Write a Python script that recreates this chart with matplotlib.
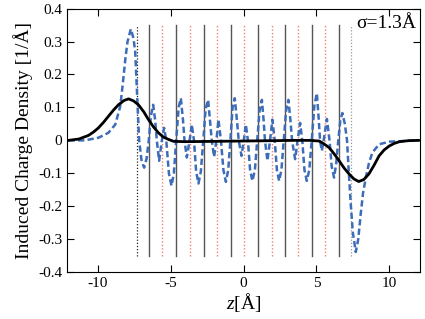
import matplotlib
import matplotlib.pyplot as plt

matplotlib.use("Agg")

plt.rcParams["font.family"] = ["Liberation Serif", "DejaVu Serif"]
plt.rcParams["mathtext.fontset"] = "custom"
plt.rcParams["mathtext.rm"] = "Liberation Serif"
plt.rcParams["mathtext.it"] = "Liberation Serif:italic"

# dashed blue curve: induced charge (unsmoothed)
blue_z = [
    -12.0, -10.9, -9.95, -9.27, -8.8, -8.46, -8.3, -8.1, -7.96, -7.73, -7.55, -7.43,
    -7.28, -7.16, -7.0, -6.82, -6.65, -6.5, -6.35, -6.2, -6.06, -5.95, -5.79, -5.6,
    -5.45, -5.3, -5.12, -4.94, -4.78, -4.62, -4.45, -4.3, -4.15, -4.05, -3.89, -3.7,
    -3.55, -3.4, -3.25, -3.09, -2.93, -2.76, -2.6, -2.43, -2.3, -2.18, -2.02, -1.86,
    -1.72, -1.55, -1.38, -1.21, -1.05, -0.9, -0.75, -0.6, -0.45, -0.33, -0.14, 0.02,
    0.16, 0.3, 0.45, 0.61, 0.78, 0.94, 1.1, 1.26, 1.38, 1.47, 1.64, 1.82,
    1.98, 2.14, 2.29, 2.44, 2.6, 2.76, 2.92, 3.08, 3.22, 3.33, 3.54, 3.71,
    3.88, 4.03, 4.18, 4.34, 4.51, 4.68, 4.86, 5.03, 5.15, 5.25, 5.37, 5.5,
    5.72, 5.9, 6.05, 6.21, 6.36, 6.5, 6.64, 6.78, 6.95, 7.1, 7.2, 7.35,
    7.5, 7.7, 7.87, 8.04, 8.2, 8.39, 8.6, 8.84, 9.3, 10.0, 12.0,
]
blue_q = [
    0.0, 0.0, 0.008, 0.023, 0.048, 0.103, 0.164, 0.25, 0.299, 0.338, 0.31, 0.269,
    0.118, 0.0, -0.06, -0.083, -0.055, 0.0, 0.075, 0.108, 0.06, 0.0, -0.062, 0.0,
    0.038, 0.0, -0.1, -0.138, -0.1, 0.0, 0.1, 0.128, 0.06, 0.0, -0.052, 0.0,
    0.048, 0.0, -0.095, -0.131, -0.095, 0.0, 0.095, 0.123, 0.06, 0.0, -0.05, 0.0,
    0.063, 0.0, -0.09, -0.126, -0.09, 0.0, 0.1, 0.128, 0.06, 0.0, -0.047, 0.0,
    0.048, 0.0, -0.09, -0.123, -0.09, 0.0, 0.09, 0.123, 0.06, 0.0, -0.062, 0.0,
    0.063, 0.0, -0.09, -0.123, -0.09, 0.0, 0.09, 0.123, 0.06, 0.0, -0.057, 0.0,
    0.053, 0.0, -0.09, -0.123, -0.09, 0.0, 0.105, 0.143, 0.07, 0.0, -0.032, 0.0,
    0.065, 0.0, -0.08, -0.113, -0.07, 0.0, 0.06, 0.083, 0.05, 0.0, -0.08, -0.19,
    -0.28, -0.339, -0.3, -0.223, -0.16, -0.113, -0.07, -0.037, -0.012, -0.004, 0.0,
]

# solid black curve: Gaussian-smeared charge (sigma = 1.3 A)
black_z = [
    -12.0, -11.3, -10.64, -10.3, -9.95, -9.6, -9.27, -8.9, -8.58, -8.2, -7.89, -7.55,
    -7.21, -6.85, -6.52, -6.18, -5.84, -5.5, -5.15, -4.8, -4.0, -2.0, 0.0, 2.0,
    3.5, 4.5, 5.19, 5.5, 5.87, 6.2, 6.56, 6.9, 7.24, 7.57, 7.9, 8.25,
    8.6, 8.95, 9.3, 9.65, 10.0, 10.35, 10.7, 11.3, 12.0,
]
black_q = [
    0.0, 0.004, 0.015, 0.025, 0.038, 0.055, 0.073, 0.093, 0.108, 0.121, 0.126, 0.12,
    0.108, 0.087, 0.063, 0.041, 0.023, 0.01, 0.003, -0.003, -0.004, -0.003, -0.002, -0.001,
    0.0, 0.0, -0.002, -0.01, -0.022, -0.04, -0.062, -0.084, -0.102, -0.117, -0.125, -0.119,
    -0.102, -0.076, -0.047, -0.029, -0.017, -0.009, -0.004, -0.001, 0.0,
]

# layer positions
solid_planes = [-6.49, -4.61, -2.74, -0.89, 0.98, 2.83, 4.70, 6.55]
red_planes = [-5.57, -3.68, -1.83, 0.05, 1.92, 3.77, 5.62]
edge_planes = [-7.31, 7.38]

x_ticks = [-10, -5, 0, 5, 10]
y_ticks = [-0.4, -0.3, -0.2, -0.1, 0.0, 0.1, 0.2, 0.3, 0.4]
y_labels = ["-0.4", "-0.3", "-0.2", "-0.1", "0", "0.1", "0.2", "0.3", "0.4"]

fig = plt.figure(figsize=(4.25, 3.19), dpi=100)
ax = fig.add_axes([0.158, 0.147, 0.83, 0.826])

for z in solid_planes:
    ax.plot([z, z], [-0.35, 0.35], color="#555555", lw=1.0)
for z in red_planes:
    ax.plot([z, z], [-0.35, 0.35], color="#f08070", lw=1.0, ls=(0, (1, 1.5)))
ax.plot([edge_planes[0]] * 2, [-0.35, 0.35], color="#222222", lw=0.9, ls=(0, (1, 1.5)))
ax.plot([edge_planes[1]] * 2, [-0.35, 0.35], color="#999999", lw=0.9, ls=(0, (1, 1.5)))

ax.plot(blue_z, blue_q, color="#3d6cb8", lw=1.8, ls=(0, (2.5, 1.3)))
ax.plot(black_z, black_q, color="black", lw=2.0)

ax.text(11.85, 0.38, "σ=1.3Å", ha="right", va="top", fontsize=14)

ax.set_xlim(-12.1, 12.1)
ax.set_ylim(-0.4, 0.4)
ax.set_xticks(x_ticks)
ax.set_xticklabels([str(t) for t in x_ticks])
ax.set_yticks(y_ticks)
ax.set_yticklabels(y_labels)
ax.tick_params(direction="in", top=True, right=True, labelsize=11, length=5, width=0.8)
for s in ax.spines.values():
    s.set_linewidth(0.8)

ax.set_xlabel("$z$[Å]", fontsize=14, labelpad=1)
ax.set_ylabel("Induced Charge Density [1/Å]", fontsize=14, labelpad=4)

fig.savefig("out.png", dpi=100)
